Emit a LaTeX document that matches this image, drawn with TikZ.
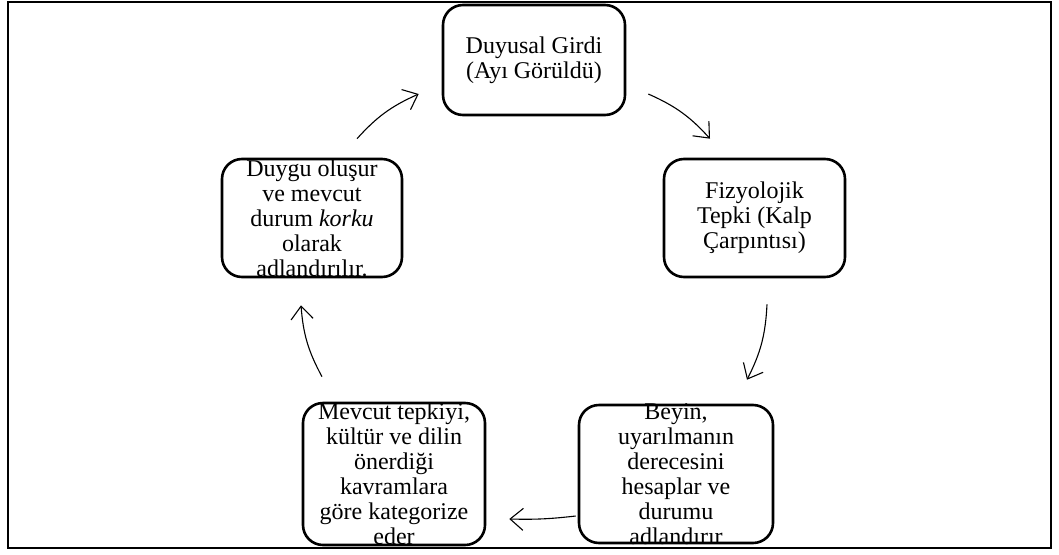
\documentclass[tikz,border=0pt]{standalone}
\usepackage{fontspec}
\setmainfont{Liberation Serif}
\usepackage{tikz}
\usetikzlibrary{arrows.meta,positioning,calc}

\begin{document}
\begin{tikzpicture}[
    x=1pt,y=-1pt,
    box/.style = {rectangle,rounded corners=20pt,draw=black,line width=2.6pt,inner sep=0pt},
    txt/.style = {align=center,inner sep=0pt,font=\fontsize{24}{25}\selectfont},
    arr/.style = {-{Straight Barb[length=13pt,width=22pt]},line width=1.1pt},
  ]

  % Cadre
  \useasboundingbox (0,0) rectangle (1059,554);
  \draw[line width=2.2pt] (8,2) rectangle (1051,548);

  % Kutular
  \node[box,minimum width=182pt,minimum height=110pt] (girdi) at (534,60)  {};
  \node[box,minimum width=181pt,minimum height=118pt] (tepki) at (754.5,218) {};
  \node[box,minimum width=194pt,minimum height=138pt] (beyin) at (676,474) {};
  \node[box,minimum width=182pt,minimum height=142pt] (kateg) at (394,474) {};
  \node[box,minimum width=180pt,minimum height=118pt] (duygu) at (312,218) {};

  % Metinler
  \node[txt] (girditxt) at (girdi) {Duyusal Girdi\\ (Ayı Görüldü)};
  \node[txt] (tepkitxt) at (tepki) {Fizyolojik\\ Tepki (Kalp\\ Çarpıntısı)};
  \node[txt] (beyintxt) at (beyin) {Beyin,\\ uyarılmanın\\ derecesini\\ hesaplar ve\\ durumu\\ adlandırır};
  \node[txt] (kategtxt) at (kateg) {Mevcut tepkiyi,\\ kültür ve dilin\\ önerdiği\\ kavramlara\\ göre kategorize\\ eder};
  \node[txt] (duygutxt) at (duygu) {Duygu oluşur\\ ve mevcut\\ durum \textit{korku}\\ olarak\\ adlandırılır.};

  % Oklar
  \draw[arr] ([shift={(45,-19)}]duygu.north) to[bend left=12] ([shift={(-23,34)}]girdi.west);
  \draw[arr] ([shift={(22,34)}]girdi.east) to[bend left=12] ([shift={(-44.5,-19)}]tepki.north);
  \draw[arr] ([shift={(12.5,26)}]tepki.south) to[bend left=12] ([shift={(71,-24)}]beyin.north);
  \draw[arr] ([shift={(-2,42)}]beyin.west) to[bend left=4] ([shift={(23,45)}]kateg.east);
  \draw[arr] ([shift={(-72,-25)}]kateg.north) to[bend left=12] ([shift={(-11,27)}]duygu.south);

\end{tikzpicture}
\end{document}
